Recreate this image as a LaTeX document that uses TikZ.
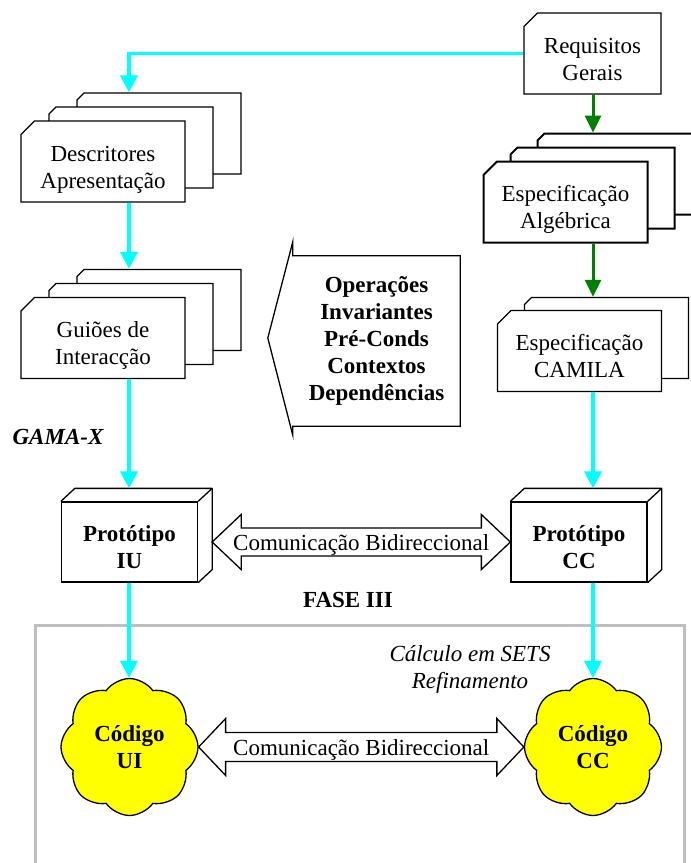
\documentclass[tikz,border=0pt]{standalone}
\usepackage{fontspec}
\setmainfont{Liberation Serif}
\usetikzlibrary{arrows.meta, calc, shapes.misc, shapes.symbols}

\definecolor{flowcyan}{RGB}{0,255,255}
\definecolor{flowgreen}{RGB}{0,128,0}
\definecolor{codeyellow}{RGB}{255,255,0}

\tikzset{
  twoline/.style={text height=56pt, text depth=3pt},
  doc/.style={chamfered rectangle, chamfered rectangle corners=north west, chamfered rectangle xsep=7pt, chamfered rectangle ysep=6.5pt, draw, fill=white, line width=1.3pt, minimum width=164pt, minimum height=81pt, inner sep=0pt, align=center, twoline},
  proto/.style={rectangle, draw, fill=white, line width=1.3pt, minimum width=136pt, minimum height=80pt, inner sep=0pt, align=center, font=\bfseries, twoline},
  codeblob/.style={cloud, cloud puffs=8, cloud puff arc=110, aspect=1, draw, fill=codeyellow, line width=1.3pt, minimum width=137pt, minimum height=137pt, inner sep=0pt, align=center, font=\bfseries},
  cyanflow/.style={flowcyan, line width=3.5pt, -{Triangle[length=17pt,width=17pt]}},
  greenflow/.style={flowgreen, line width=3pt, -{Triangle[length=17pt,width=16pt]}},
  bidir/.style={draw, fill=white, line width=1.3pt}
}

\begin{document}
\fontsize{23}{27}\selectfont
\begin{tikzpicture}[x=1pt, y=-1pt]
\useasboundingbox (0,0) rectangle (691,863);
\draw[black!25, line width=3pt] (35,880) |- (684,625) -- (684,880);

\coordinate (colL) at (129,0);
\coordinate (colR) at (593,0);

\node[doc, minimum width=137pt] (req) at (592.5,53.5) {Requisitos\\Gerais};

\node[doc] (desc-3) at (159,133.5) {};
\node[doc] (desc-2) at (131,147.5) {};
\node[doc] (desc-1) at (103,161.5) {Descritores\\Apresentação};

\node[doc] (gui-3) at (159,310) {};
\node[doc] (gui-2) at (131,324) {};
\node[doc] (gui-1) at (103,338) {Guiões de\\Interacção};

\node[doc, line width=2pt] (alg-3) at (619.5,174) {};
\node[doc, line width=2pt] (alg-2) at (592.5,188) {};
\node[doc, line width=2pt] (alg-1) at (565.5,202) {Especificação\\Algébrica};

\node[doc] (cam-2) at (606.5,338) {};
\node[doc] (cam-1) at (579.5,351) {Especificação\\CAMILA};

\node[minimum width=167pt, minimum height=170pt, inner sep=0pt, align=center, font=\bfseries] (ops) at (376.5,341) {Operações\\Invariantes\\Pré-Conds\\Contextos\\Dependências};
\draw[line width=1.3pt] (ops.north east) -- (ops.north west) -- ([yshift=14pt]ops.north west) -- ([xshift=-25pt,yshift=3pt]ops.west) -- ([yshift=-9pt]ops.south west) -- (ops.south west) -- (ops.south east) -- cycle;

\node[font=\bfseries\itshape] (gama) at (58,437) {GAMA-X};

\node[proto] (piu) at (129.5,542) {Protótipo\\IU};
\node[proto] (pcc) at (579,542) {Protótipo\\CC};
\foreach \p in {piu,pcc} {
  \draw[line width=1.3pt, line join=round] (\p.north west) -- ++(14,-13) -- ([shift={(14pt,13pt)}]\p.north east) -- ([shift={(14pt,13pt)}]\p.south east) -- (\p.south east);
  \draw[line width=1.3pt] (\p.north east) -- ([shift={(14pt,13pt)}]\p.north east);
  \coordinate (\p-top) at ([yshift=13pt]\p.north);
}

\node[font=\bfseries] (fase) at (348,600) {FASE III};

\node[codeblob] (cui) at (129.5,747) {Código\\UI};
\node[codeblob] (ccc) at (593,747) {Código\\CC};

\node[font=\itshape, align=center] (sets) at (470,669) {Cálculo em SETS\\Refinamento};

\draw[cyanflow] (req.west) -| (colL |- desc-3.north);
\draw[cyanflow] (colL |- desc-1.south) -- (colL |- gui-3.north);
\draw[cyanflow] (colL |- gui-1.south) -- (colL |- piu-top);
\draw[cyanflow] (colL |- piu.south) -- (colL |- cui.north);
\draw[greenflow] (colR |- req.south) -- (colR |- alg-3.north);
\draw[greenflow] (colR |- alg-1.south) -- (colR |- cam-2.north);
\draw[cyanflow] (colR |- cam-1.south) -- (colR |- pcc-top);
\draw[cyanflow] (colR |- pcc.south) -- (colR |- ccc.north);

\coordinate (ba) at ($(piu.east)+(14pt,0)$);
\draw[bidir] (ba) -- ++(29,-27.5) -- ++(0,13.5) -- ($(pcc.west)+(-29,-14)$) -- ++(0,-13.5) -- (pcc.west) -- ++(-29,27.5) -- ++(0,-13.5) -- ($(ba)+(29,14)$) -- ++(0,13.5) -- cycle;
\node[yshift=-3pt] (com1) at ($(ba)!0.5!(pcc.west)$) {Comunicação Bidireccional};

\draw[bidir] (cui.east) -- ++(27,-28.5) -- ++(0,14) -- ($(ccc.west)+(-27,-14.5)$) -- ++(0,-14) -- (ccc.west) -- ++(-27,28.5) -- ++(0,-14) -- ($(cui.east)+(27,14.5)$) -- ++(0,14) -- cycle;
\node[yshift=-3pt] (com2) at ($(cui.east)!0.5!(ccc.west)$) {Comunicação Bidireccional};
\end{tikzpicture}
\end{document}
